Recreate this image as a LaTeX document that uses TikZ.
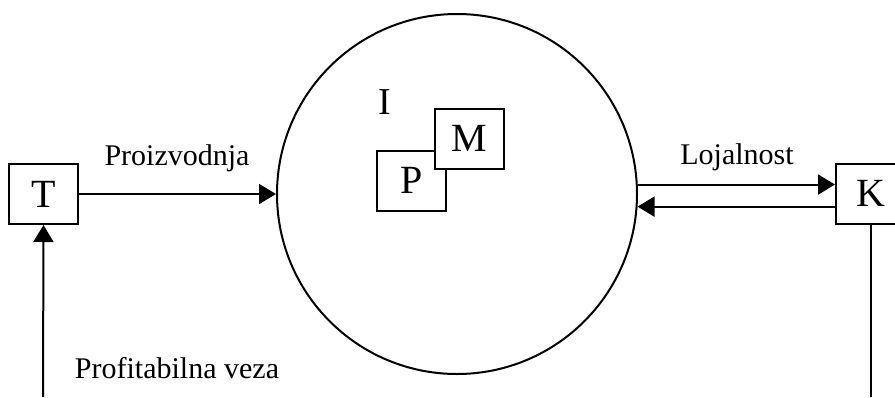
\documentclass[tikz,border=0pt]{standalone}
\usepackage{fontspec}
\setmainfont{Liberation Serif}
\usetikzlibrary{arrows.meta}

\begin{document}
\begin{tikzpicture}[x=0.5pt,y=-0.5pt,line width=1pt,
    kutija/.style={draw,fill=white,minimum width=34.5pt,minimum height=30pt,inner sep=0pt,font=\fontsize{20}{24}\selectfont},
    natpis/.style={anchor=base,font=\fontsize{15}{18}\selectfont},
    strel/.style={-{Triangle[length=8.5pt,width=10pt]}}]
  \useasboundingbox (0,0) rectangle (895,397);
  \node[draw,circle,minimum size=180pt,inner sep=0pt] (krug) at (457,194) {};
  \node[anchor=base,font=\fontsize{19}{22}\selectfont] (I) at (385,114) {I};
  \node[kutija] (P) at (411.5,180.5) {P};
  \node[kutija] (M) at (469.5,138.5) {M};
  \node[kutija] (T) at (43.5,194) {T};
  \node[kutija] (K) at (870.5,193.5) {K};
  \coordinate (dno) at (43,397);
  \draw[strel] (T.east) -- (krug.west);
  \draw[strel] (krug.3) -- (K.west |- krug.3);
  \draw[strel] (K.west |- krug.-4) -- (krug.-4);
  \draw[strel] (dno) -- (T.south);
  \draw (K.south) -- (K.south |- dno);
  \node[natpis] (proizvodnja) at (177,165) {Proizvodnja};
  \node[natpis] (lojalnost) at (737,164) {Lojalnost};
  \node[natpis] (profit) at (177,378) {Profitabilna veza};
\end{tikzpicture}
\end{document}
